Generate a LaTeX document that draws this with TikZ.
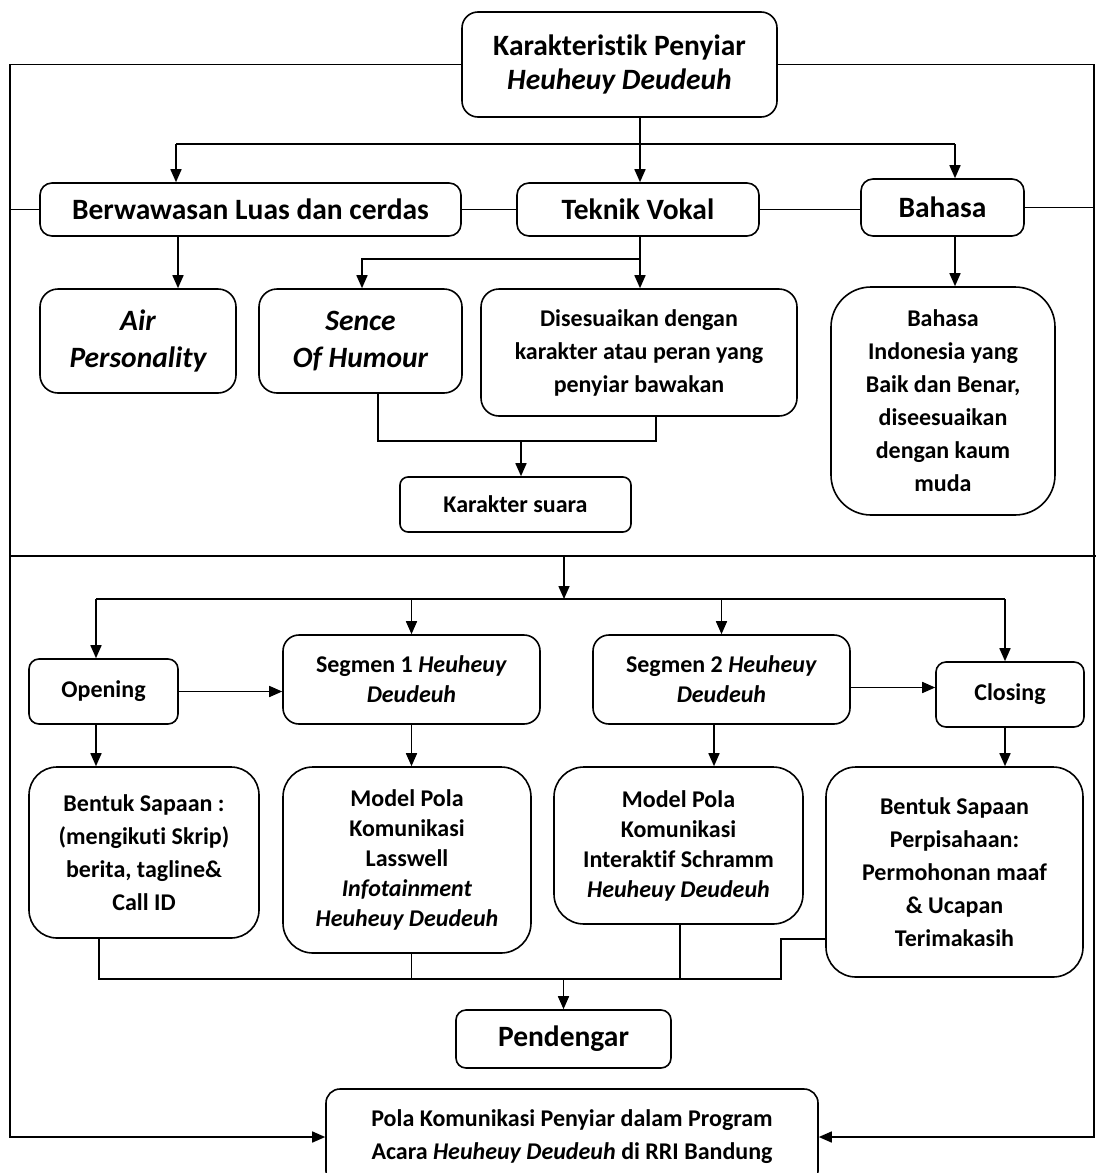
\documentclass[tikz,border=0pt]{standalone}
\usepackage{fontspec}
\setmainfont{Carlito}[Ligatures=NoCommon]
\usetikzlibrary{arrows.meta,positioning}

\begin{document}
\begin{tikzpicture}[x=1pt,y=-1pt]
\tikzset{
  boxnode/.style={draw,line width=1.6pt,rounded corners=12pt,align=center,inner sep=2pt,font=\bfseries\fontsize{24}{33}\selectfont},
  bignode/.style={boxnode,font=\bfseries\fontsize{29.5}{34}\selectfont},
  directed/.style={-{Triangle[length=13pt,width=11pt]},line width=1.6pt},
  undirected/.style={line width=1.6pt}
}
\clip (0,0) rectangle (1096,1173);
\useasboundingbox (0,0) rectangle (1096,1173);
\node[bignode,rounded corners=16pt,minimum width=315pt,minimum height=105pt] (n_top) at (619.5,64.5) {Karakteristik Penyiar\\\textit{Heuheuy Deudeuh}};
\node[bignode,minimum width=421pt,minimum height=53pt] (n_wawasan) at (250.5,209.5) {Berwawasan Luas dan cerdas};
\node[bignode,minimum width=242pt,minimum height=53pt] (n_vokal) at (638,209.5) {Teknik Vokal};
\node[bignode,minimum width=163pt,minimum height=57pt] (n_bahasa) at (942.5,207.5) {Bahasa};
\node[bignode,rounded corners=18pt,minimum width=196pt,minimum height=104pt,font=\bfseries\itshape\fontsize{29.5}{37}\selectfont] (n_air) at (138,341) {Air\\Personality};
\node[bignode,rounded corners=18pt,minimum width=203pt,minimum height=104pt,font=\bfseries\itshape\fontsize{29.5}{37}\selectfont] (n_humour) at (360.5,341) {Sence\\Of Humour};
\node[boxnode,rounded corners=18pt,minimum width=316pt,minimum height=127pt] (n_sesuai) at (639,352.5) {Disesuaikan dengan\\karakter atau peran yang\\penyiar bawakan};
\node[boxnode,rounded corners=8pt,minimum width=231pt,minimum height=55pt] (n_suara) at (515.5,504.5) {Karakter suara};
\node[boxnode,rounded corners=40pt,minimum width=224pt,minimum height=228pt] (n_indo) at (943,401) {Bahasa\\Indonesia yang\\Baik dan Benar,\\diseesuaikan\\dengan kaum\\muda};
\node[boxnode,rounded corners=10pt,minimum width=149pt,minimum height=65pt] (n_open) at (103.5,691.5) {Opening};
\node[boxnode,rounded corners=16pt,minimum width=257pt,minimum height=89pt,font=\bfseries\fontsize{24}{30}\selectfont] (n_seg1) at (411.5,679.5) {Segmen 1 \textit{Heuheuy}\\\textit{Deudeuh}};
\node[boxnode,rounded corners=16pt,minimum width=257pt,minimum height=89pt,font=\bfseries\fontsize{24}{30}\selectfont] (n_seg2) at (721.5,679.5) {Segmen 2 \textit{Heuheuy}\\\textit{Deudeuh}};
\node[boxnode,rounded corners=10pt,minimum width=148pt,minimum height=65pt] (n_close) at (1010,694.5) {Closing};
\node[boxnode,rounded corners=28pt,minimum width=230pt,minimum height=171pt] (n_sapa) at (144,852.5) {Bentuk Sapaan :\\(mengikuti Skrip)\\berita, tagline\&\\Call ID};
\node[boxnode,rounded corners=30pt,minimum width=248pt,minimum height=186pt,font=\bfseries\fontsize{24}{30}\selectfont] (n_lasswell) at (407,860) {Model Pola\\Komunikasi\\Lasswell\\\textit{Infotainment}\\\textit{Heuheuy Deudeuh}};
\node[boxnode,rounded corners=30pt,minimum width=249pt,minimum height=157pt,font=\bfseries\fontsize{24}{30}\selectfont] (n_schramm) at (678.5,845.5) {Model Pola\\Komunikasi\\Interaktif Schramm\\\textit{Heuheuy Deudeuh}};
\node[boxnode,rounded corners=30pt,minimum width=257pt,minimum height=210pt] (n_pisah) at (954.5,872) {Bentuk Sapaan\\Perpisahaan:\\Permohonan maaf\\\& Ucapan\\Terimakasih};
\node[bignode,rounded corners=10pt,minimum width=215pt,minimum height=58pt] (n_dengar) at (563.5,1039) {Pendengar};
\node[boxnode,rounded corners=14pt,minimum width=492pt,minimum height=96pt] (n_pola) at (572,1137) {Pola Komunikasi Penyiar dalam Program\\Acara \textit{Heuheuy Deudeuh} di RRI Bandung};
\coordinate (edgeL) at (10,1137);
\coordinate (edgeR) at (1094,1137);
\coordinate (splitT) at (640,144);
\coordinate (brL) at (176,144);
\coordinate (brR) at (955,144);
\coordinate (brV) at (362,259);
\coordinate (joinL) at (378,441);
\coordinate (joinR) at (656,441);
\coordinate (joinM) at (521,441);
\coordinate (midL) at (10,556);
\coordinate (midR) at (1096,556);
\coordinate (midS) at (564,556);
\coordinate (busL) at (96,599);
\coordinate (busR) at (1005,599);
\coordinate (busS) at (564,599);
\coordinate (colL) at (99,979);
\coordinate (colR) at (781,979);
\coordinate (colT) at (781,939);
\draw[directed] (n_top.west) -| (edgeL) -- (n_pola.west);
\draw[directed] (n_top.east) -| (edgeR) -- (n_pola.east);
\draw[undirected] (n_wawasan.west) -- (n_wawasan.west -| edgeL);
\draw[undirected] (n_wawasan.east) -- (n_vokal.west);
\draw[undirected] (n_vokal.east) -- (n_vokal.east -| n_bahasa.west);
\draw[undirected] (n_bahasa.east) -- (n_bahasa.east -| edgeR);
\draw[undirected] (splitT |- n_top.south) -- (splitT);
\draw[undirected] (brL) -- (brR);
\draw[directed] (brL) -- (brL |- n_wawasan.north);
\draw[directed] (splitT) -- (splitT |- n_vokal.north);
\draw[directed] (brR) -- (brR |- n_bahasa.north);
\draw[directed] ([xshift=2pt]brL |- n_wawasan.south) -- ([xshift=2pt]brL |- n_air.north);
\draw[directed] (splitT |- n_vokal.south) -- (splitT |- n_sesuai.north);
\draw[directed] (splitT |- brV) -- (brV) -- (brV |- n_humour.north);
\draw[directed] (brR |- n_bahasa.south) -- (brR |- n_indo.north);
\draw[undirected] (joinL |- n_humour.south) -- (joinL) -- (joinR) -- (joinR |- n_sesuai.south);
\draw[directed] (joinM) -- (joinM |- n_suara.north);
\draw[undirected] (midL) -- (midR);
\draw[directed] (midS) -- (busS);
\draw[undirected] (busL) -- (busR);
\draw[directed] (busL) -- (busL |- n_open.north);
\draw[directed] (busS -| n_seg1.north) -- (n_seg1.north);
\draw[directed] (busS -| n_seg2.north) -- (n_seg2.north);
\draw[directed] (busR) -- (busR |- n_close.north);
\draw[directed] (n_open.east) -- (n_open.east -| n_seg1.west);
\draw[directed] ([yshift=-8pt]n_seg2.east) -- ([yshift=-8pt]n_seg2.east -| n_close.west);
\draw[directed] (busL |- n_open.south) -- (busL |- n_sapa.north);
\draw[directed] (n_seg1.south) -- (n_seg1.south |- n_lasswell.north);
\draw[directed] (n_seg2.south -| 714,0) -- (714,0 |- n_schramm.north);
\draw[directed] (busR |- n_close.south) -- (busR |- n_pisah.north);
\draw[undirected] (colL |- n_sapa.south) -- (colL) -- (colR) -- (colT) -- (colT -| n_pisah.west);
\draw[undirected] (n_seg1.south |- n_lasswell.south) -- (n_seg1.south |- colL);
\draw[undirected] (680,0 |- n_schramm.south) -- (680,0 |- colL);
\draw[directed] (n_dengar.north |- colL) -- (n_dengar.north);
\end{tikzpicture}
\end{document}
